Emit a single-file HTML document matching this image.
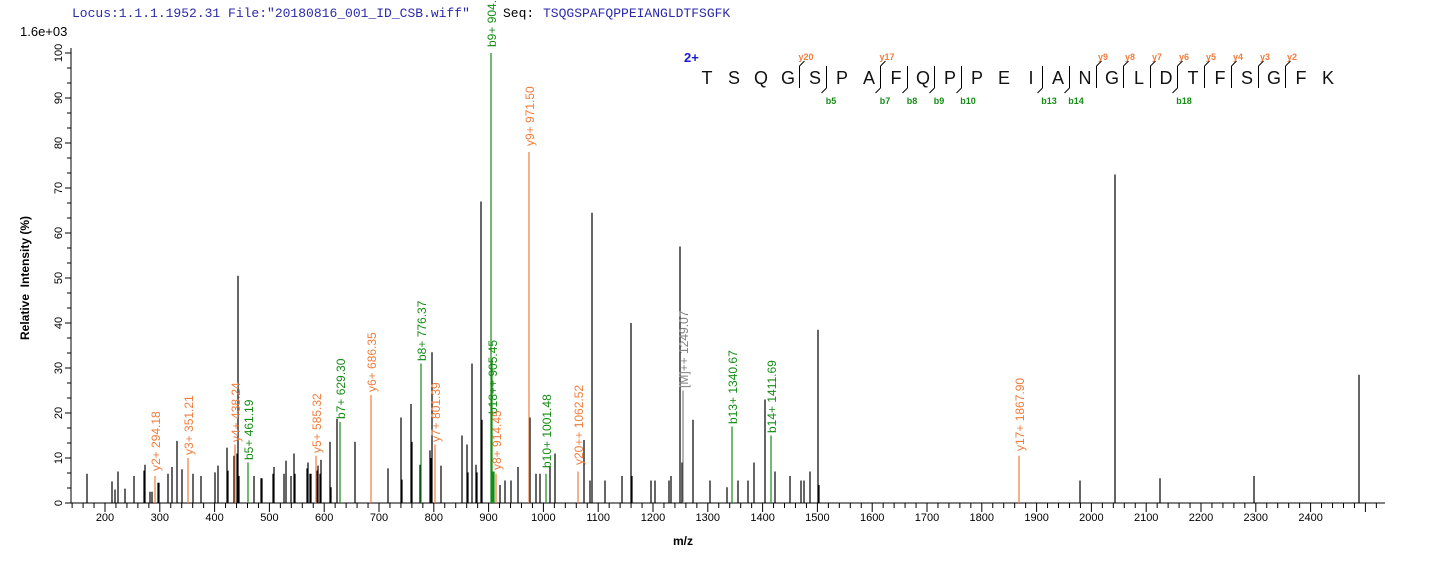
<!DOCTYPE html>
<html><head><meta charset="utf-8"><style>
html,body{margin:0;padding:0;background:#fff;}
svg{display:block;font-family:"Liberation Sans",Arial,sans-serif;}
.o{fill:#f07c3c;font-size:12px}
.g{fill:#148c14;font-size:12px}
.t{font-size:11px;fill:#000}
</style></head><body>
<svg width="1436" height="562" viewBox="0 0 1436 562" xmlns="http://www.w3.org/2000/svg">
<text x="72" y="17" font-family="Liberation Mono,monospace" font-size="13" fill="#2a2aa8">Locus:1.1.1.1952.31 File:"20180816_001_ID_CSB.wiff"</text>
<text x="503" y="17" font-family="Liberation Mono,monospace" font-size="13" fill="#000">Seq:</text>
<text x="543" y="17" font-family="Liberation Mono,monospace" font-size="13" fill="#2a2aa8">TSQGSPAFQPPEIANGLDTFSGFK</text>
<text x="20" y="36" font-size="13">1.6e+03</text>
<g id="axes" stroke="#000" stroke-width="1"></g>
<g id="peaks" stroke-width="1.2"></g>
<g class="t" text-anchor="middle">
<text x="105" y="521">200</text><text x="159.8" y="521">300</text><text x="214.6" y="521">400</text><text x="269.4" y="521">500</text><text x="324.2" y="521">600</text><text x="379" y="521">700</text><text x="433.8" y="521">800</text><text x="488.6" y="521">900</text><text x="543.4" y="521">1000</text><text x="598.2" y="521">1100</text><text x="653" y="521">1200</text><text x="707.8" y="521">1300</text><text x="762.6" y="521">1400</text><text x="817.4" y="521">1500</text><text x="872.2" y="521">1600</text><text x="927" y="521">1700</text><text x="981.8" y="521">1800</text><text x="1036.6" y="521">1900</text><text x="1091.4" y="521">2000</text><text x="1146.2" y="521">2100</text><text x="1201" y="521">2200</text><text x="1255.8" y="521">2300</text><text x="1310.6" y="521">2400</text>
</g>
<g class="t" text-anchor="middle">
<text transform="translate(62,503) rotate(-90)">0</text><text transform="translate(62,458) rotate(-90)">10</text><text transform="translate(62,413) rotate(-90)">20</text><text transform="translate(62,368) rotate(-90)">30</text><text transform="translate(62,323) rotate(-90)">40</text><text transform="translate(62,278) rotate(-90)">50</text><text transform="translate(62,233) rotate(-90)">60</text><text transform="translate(62,188) rotate(-90)">70</text><text transform="translate(62,143) rotate(-90)">80</text><text transform="translate(62,98) rotate(-90)">90</text><text transform="translate(62,53) rotate(-90)">100</text>
</g>
<text transform="translate(29,278) rotate(-90)" text-anchor="middle" font-size="12" font-weight="bold">Relative&#160;&#160;Intensity (%)</text>
<text x="683" y="545" text-anchor="middle" font-size="12" font-weight="bold">m/z</text>
<g>
<text class="o" transform="translate(160,471) rotate(-90)">y2+ 294.18</text>
<text class="o" transform="translate(193,455) rotate(-90)">y3+ 351.21</text>
<text class="o" transform="translate(240,442) rotate(-90)">y4+ 438.24</text>
<text class="g" transform="translate(253,460) rotate(-90)">b5+ 461.19</text>
<text class="o" transform="translate(321,453) rotate(-90)">y5+ 585.32</text>
<text class="g" transform="translate(345,419) rotate(-90)">b7+ 629.30</text>
<text class="o" transform="translate(376,392) rotate(-90)">y6+ 686.35</text>
<text class="g" transform="translate(426,361) rotate(-90)">b8+ 776.37</text>
<text class="o" transform="translate(440,442) rotate(-90)">y7+ 801.39</text>
<text class="g" transform="translate(496,47) rotate(-90)">b9+ 904.43</text>
<text class="g" transform="translate(497,414) rotate(-90)">b18++ 905.45</text>
<text class="o" transform="translate(501,470) rotate(-90)">y8+ 914.45</text>
<text class="o" transform="translate(534,146) rotate(-90)">y9+ 971.50</text>
<text class="g" transform="translate(551,468) rotate(-90)">b10+ 1001.48</text>
<text class="o" transform="translate(583,465) rotate(-90)">y20++ 1062.52</text>
<text transform="translate(688,388) rotate(-90)" font-size="12" fill="#808080">[M]++ 1249.07</text>
<text class="g" transform="translate(737,424) rotate(-90)">b13+ 1340.67</text>
<text class="g" transform="translate(776,433) rotate(-90)">b14+ 1411.69</text>
<text class="o" transform="translate(1024,451) rotate(-90)">y17+ 1867.90</text>
</g>
<text x="684" y="62" font-size="13" font-weight="bold" fill="#1a1acc">2+</text>
<g font-size="18" text-anchor="middle" fill="#111">
<text x="707" y="84">T</text><text x="734" y="84">S</text><text x="761" y="84">Q</text><text x="788" y="84">G</text><text x="815" y="84">S</text><text x="842" y="84">P</text><text x="869" y="84">A</text><text x="896" y="84">F</text><text x="923" y="84">Q</text><text x="950" y="84">P</text><text x="977" y="84">P</text><text x="1004" y="84">E</text><text x="1031" y="84">I</text><text x="1058" y="84">A</text><text x="1085" y="84">N</text><text x="1112" y="84">G</text><text x="1139" y="84">L</text><text x="1166" y="84">D</text><text x="1193" y="84">T</text><text x="1220" y="84">F</text><text x="1247" y="84">S</text><text x="1274" y="84">G</text><text x="1301" y="84">F</text><text x="1328" y="84">K</text>
</g>
<g id="frag" stroke="#000" stroke-width="1" fill="none"></g>
<g font-size="9" font-weight="bold" fill="#f07c3c" text-anchor="middle">
<text x="806" y="60">y20</text><text x="887" y="60">y17</text><text x="1103" y="60">y9</text><text x="1130" y="60">y8</text><text x="1157" y="60">y7</text><text x="1184" y="60">y6</text><text x="1211" y="60">y5</text><text x="1238" y="60">y4</text><text x="1265" y="60">y3</text><text x="1292" y="60">y2</text>
</g>
<g font-size="9" font-weight="bold" fill="#148c14" text-anchor="middle">
<text x="831" y="104">b5</text><text x="885" y="104">b7</text><text x="912" y="104">b8</text><text x="939" y="104">b9</text><text x="968" y="104">b10</text><text x="1049" y="104">b13</text><text x="1076" y="104">b14</text><text x="1184" y="104">b18</text>
</g>
<script>
(function(){
var NS="http://www.w3.org/2000/svg";
function L(g,x1,y1,x2,y2,c){var l=document.createElementNS(NS,"line");l.setAttribute("x1",x1);l.setAttribute("y1",y1);l.setAttribute("x2",x2);l.setAttribute("y2",y2);if(c)l.setAttribute("stroke",c);g.appendChild(l);}
var a=document.getElementById("axes");
L(a,71,503,1385,503);L(a,71,503,71,48);
for(var m=140;m<=2520;m+=20){var x=105+(m-200)*0.548;if(x<71||x>1385)continue;L(a,x,503,x,m%100==0?512:508);}
for(var p=0;p<=100;p+=10/3){var y=503-4.5*p;var maj=Math.abs(p-Math.round(p/10)*10)<0.01;L(a,71,y,maj?65:67,y);}
var P=document.getElementById("peaks");
var K=[[87,6.5],[112,4.8],[115,3],[118,7],[125,3.2],[134,6],[144,7.2],[145,8.5],[150,2.5],[152,2.5],[158,4.5],[159,4.5],[168,6.5],[172,8],[177,13.8],[182,7.5],[193,6.5],[201,6],[215,6.8],[218,8.3],[227,12.3],[228,7.2],[234,10.5],[237,11],[238,50.5],[239,6],[254,6],[261,5.5],[262,5.5],[273,6.5],[274,8],[284,6.5],[286,9.4],[291,6],[294,11],[295,6.5],[307,7.7],[308,9],[310,6.5],[311,6.5],[317,7.2],[318,8.3],[320,6.5],[321,9.6],[330,13.6],[331,3.5],[337,18.7],[355,13.6],[388,7.7],[401,19],[402,5.2],[411,22],[412,13.6],[420,8.5],[430,11.7],[431,10],[432,33.5],[441,8.3],[462,15],[467,13],[468,6.8],[472,31],[476,8.5],[477,6.8],[481,67],[482,18.5],[500,4],[505,5],[511,5],[518,8],[530,19],[536,6.5],[540,6.5],[550,8],[555,11],[584,14],[590,5],[592,64.5],[605,5],[622,6],[631,40],[632,6],[651,5],[655,5],[669,5],[671,6],[680,57],[682,9],[693,18.5],[710,5],[727,3.5],[738,5],[748,5],[754,9],[765,23],[775,7],[790,6],[801,5],[804,5],[810,7],[818,38.5],[819,4],[1080,5],[1115,73],[1160,5.5],[1254,6],[1359,28.5]];
var O="#f07c3c",G="#148c14";
var C=[[155,6,O],[188,10,O],[235,13,O],[248,9,G],[316,10.5,O],[340,18,G],[371,24,O],[421,31,G],[435,13,O],[491,100,G],[492,32,G],[493,7,G],[494,7,G],[496,6.5,O],[529,78,O],[546,6.5,G],[578,7,O],[683,25,"#808080"],[732,17,G],[771,15,G],[1019,10.5,O]];
K.forEach(function(k){L(P,k[0],503,k[0],503-4.5*k[1],"#000");});
C.forEach(function(k){L(P,k[0],503,k[0],503-4.5*k[1],k[2]);});
var F=document.getElementById("frag");
function bx(i){return 707+27*i+13.5;}
[3,6,14,15,16,17,18,19,20,21].forEach(function(i){var x=bx(i)-2;L(F,x,88,x,66);L(F,x,66,x+5,61);});
[4,6,7,8,9,12,13,17].forEach(function(i){var x=bx(i)-2;L(F,x,66,x,88);L(F,x,88,x-5,93);});
})();
</script>
</svg>
</body></html>
